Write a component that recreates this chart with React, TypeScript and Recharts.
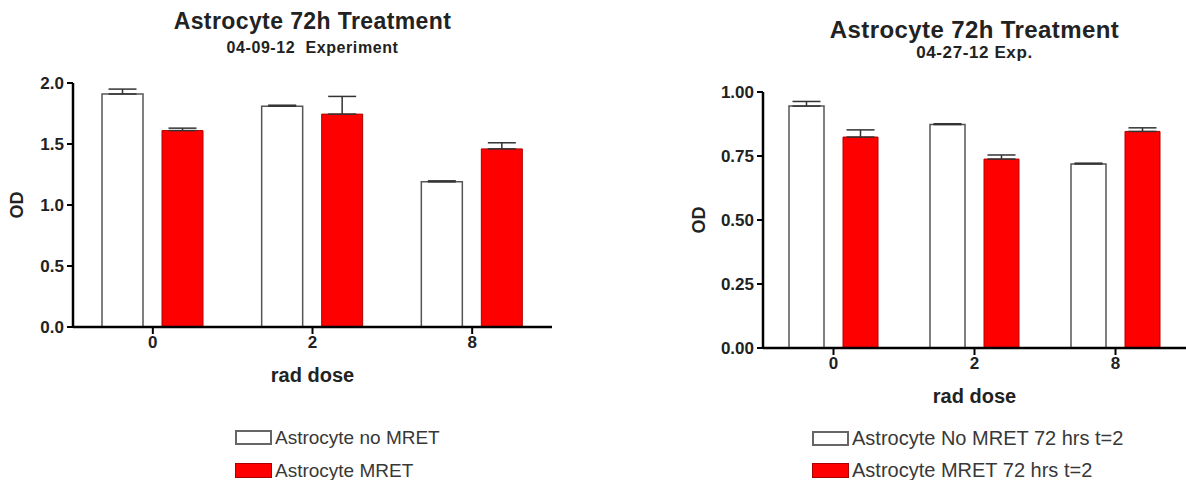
import React from 'react'
import { BarChart, Bar, XAxis, YAxis, ErrorBar, Legend } from 'recharts'

const doses = ['0', '2', '8']

// left panel: 04-09-12 experiment
const leftNoMret = [1.91, 1.81, 1.19]
const leftNoMretErr = [0.04, 0.008, 0.008]
const leftMret = [1.61, 1.745, 1.46]
const leftMretErr = [0.02, 0.145, 0.05]
const leftTicks = [0, 0.5, 1, 1.5, 2]
const leftNames = ['Astrocyte no MRET', 'Astrocyte MRET']

// right panel: 04-27-12 experiment
const rightNoMret = [0.945, 0.873, 0.719]
const rightNoMretErr = [0.018, 0.003, 0.003]
const rightMret = [0.824, 0.738, 0.846]
const rightMretErr = [0.028, 0.016, 0.014]
const rightTicks = [0, 0.25, 0.5, 0.75, 1]
const rightNames = ['Astrocyte No MRET 72 hrs t=2', 'Astrocyte MRET 72 hrs t=2']

const FONT = '"Liberation Sans", Arial, sans-serif'
const INK = '#222'

function buildRows(a: number[], aErr: number[], b: number[], bErr: number[]) {
  return doses.map((d, i) => ({
    dose: d,
    noMret: a[i],
    noMretErr: [0, aErr[i]],
    mret: b[i],
    mretErr: [0, bErr[i]],
  }))
}

interface PanelProps {
  left: number
  width: number
  rows: ReturnType<typeof buildRows>
  ticks: number[]
  digits: number
  names: string[]
  title: string
  subtitle: string
  titleSize: number
  subSize: number
  titleY: number
  subY: number
  margin: { top: number; right: number; bottom: number; left: number }
  yAxisWidth: number
  odX: number
  barSize: number
  barGap: number
  legendLeft: number
  legendTop: number
  legendRow: number
  legendFont: number
}

function Panel(p: PanelProps) {
  const plotCenter = p.margin.left + p.yAxisWidth + (p.width - p.margin.left - p.yAxisWidth - p.margin.right) / 2
  const max = p.ticks[p.ticks.length - 1]
  const tickStyle = { fill: INK, fontSize: 17, fontWeight: 'bold', fontFamily: FONT }
  return (
    <div style={{ position: 'absolute', left: p.left, top: 0, width: p.width, height: 480, fontFamily: FONT }}>
      <div
        style={{
          position: 'absolute', left: plotCenter - 250, width: 500, top: p.titleY - p.titleSize * 0.6,
          textAlign: 'center', fontWeight: 'bold', fontSize: p.titleSize, color: INK, lineHeight: 1.2,
          letterSpacing: 0.4, whiteSpace: 'pre',
        }}
      >
        {p.title}
      </div>
      <div
        style={{
          position: 'absolute', left: plotCenter - 250, width: 500, top: p.subY - p.subSize * 0.6,
          textAlign: 'center', fontWeight: 'bold', fontSize: p.subSize, color: INK, lineHeight: 1.2,
          letterSpacing: 0.6, whiteSpace: 'pre',
        }}
      >
        {p.subtitle}
      </div>
      <BarChart
        width={p.width}
        height={480}
        data={p.rows}
        margin={p.margin}
        barSize={p.barSize}
        barGap={p.barGap}
      >
        <XAxis
          dataKey="dose"
          height={60}
          axisLine={{ stroke: '#000', strokeWidth: 2.5 }}
          tickLine={{ stroke: '#000', strokeWidth: 2 }}
          tickSize={7}
          tick={tickStyle}
          label={{
            content: ({ viewBox }: any) => (
              <text
                x={viewBox.x + viewBox.width / 2}
                y={viewBox.y + 50}
                textAnchor="middle"
                dominantBaseline="middle"
                fill={INK}
                fontSize={20}
                fontWeight="bold"
                fontFamily={FONT}
              >
                rad dose
              </text>
            ),
          }}
        />
        <YAxis
          width={p.yAxisWidth}
          domain={[0, max]}
          ticks={p.ticks}
          interval={0}
          tickFormatter={(v: number) => v.toFixed(p.digits)}
          axisLine={{ stroke: '#000', strokeWidth: 2.5 }}
          tickLine={{ stroke: '#000', strokeWidth: 2 }}
          tickSize={6}
          tickMargin={3}
          tick={tickStyle}
          label={{
            content: ({ viewBox }: any) => {
              const x = viewBox.x + p.odX
              const y = viewBox.y + viewBox.height / 2
              return (
                <text
                  x={x}
                  y={y}
                  transform={`rotate(-90, ${x}, ${y})`}
                  textAnchor="middle"
                  dominantBaseline="middle"
                  fill={INK}
                  fontSize={18}
                  fontWeight="bold"
                  fontFamily={FONT}
                >
                  OD
                </text>
              )
            },
          }}
        />
        <Legend
          layout="vertical"
          align="center"
          verticalAlign="middle"
          wrapperStyle={{ left: p.legendLeft, top: p.legendTop, width: 420 }}
          content={({ payload }: any) => (
            <div style={{ fontFamily: FONT }}>
              {p.names.map((name, i) => {
                const entry = (payload || []).find((e: any) => e.value === name)
                return (
                  <div key={name} style={{ display: 'flex', alignItems: 'center', height: p.legendRow }}>
                    <span
                      style={{
                        display: 'inline-block',
                        boxSizing: 'border-box',
                        width: 37,
                        height: 15,
                        background: entry ? entry.color : i === 0 ? '#fff' : '#ff0000',
                        border: i === 0 ? '2px solid #666' : '1px solid #a00',
                        marginRight: 3,
                      }}
                    />
                    <span style={{ fontSize: p.legendFont, color: '#383838', lineHeight: 1 }}>{name}</span>
                  </div>
                )
              })}
            </div>
          )}
        />
        <Bar dataKey="noMret" name={p.names[0]} fill="#fff" stroke="#555" strokeWidth={1.5} isAnimationActive={false}>
          <ErrorBar dataKey="noMretErr" width={14} stroke="#333" strokeWidth={1.5} direction="y" />
        </Bar>
        <Bar dataKey="mret" name={p.names[1]} fill="#ff0000" stroke="#b00000" strokeWidth={1} isAnimationActive={false}>
          <ErrorBar dataKey="mretErr" width={14} stroke="#333" strokeWidth={1.5} direction="y" />
        </Bar>
      </BarChart>
    </div>
  )
}

export default function App() {
  return (
    <div style={{ position: 'absolute', left: 0, top: 0, width: 1186, height: 480, background: '#fff', overflow: 'hidden' }}>
      <Panel
        left={0}
        width={560}
        rows={buildRows(leftNoMret, leftNoMretErr, leftMret, leftMretErr)}
        ticks={leftTicks}
        digits={1}
        names={leftNames}
        title="Astrocyte 72h Treatment"
        subtitle="04-09-12  Experiment"
        titleSize={23}
        subSize={16}
        titleY={22}
        subY={48}
        margin={{ top: 83, right: 8, bottom: 93, left: 5 }}
        yAxisWidth={68}
        odX={13}
        barSize={41}
        barGap={19}
        legendLeft={235}
        legendTop={421}
        legendRow={33}
        legendFont={19}
      />
      <Panel
        left={660}
        width={526}
        rows={buildRows(rightNoMret, rightNoMretErr, rightMret, rightMretErr)}
        ticks={rightTicks}
        digits={2}
        names={rightNames}
        title="Astrocyte 72h Treatment"
        subtitle="04-27-12 Exp."
        titleSize={24}
        subSize={17}
        titleY={30}
        subY={53}
        margin={{ top: 92, right: 0, bottom: 72, left: 5 }}
        yAxisWidth={98}
        odX={35}
        barSize={35}
        barGap={19}
        legendLeft={152}
        legendTop={422}
        legendRow={32}
        legendFont={20}
      />
    </div>
  )
}
